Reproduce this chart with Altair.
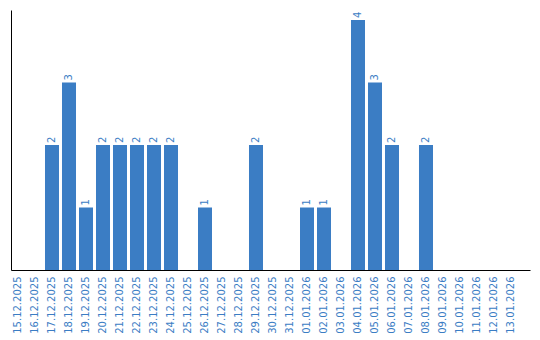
import altair as alt
import pandas as pd

dates = ["15.12.2025","16.12.2025","17.12.2025","18.12.2025","19.12.2025","20.12.2025",
         "21.12.2025","22.12.2025","23.12.2025","24.12.2025","25.12.2025","26.12.2025",
         "27.12.2025","28.12.2025","29.12.2025","30.12.2025","31.12.2025","01.01.2026",
         "02.01.2026","03.01.2026","04.01.2026","05.01.2026","06.01.2026","07.01.2026",
         "08.01.2026","09.01.2026","10.01.2026","11.01.2026","12.01.2026","13.01.2026"]
values = [0,0,2,3,1,2,2,2,2,2,0,1,0,0,2,0,0,1,1,0,4,3,2,0,2,0,0,0,0,0]

df = pd.DataFrame({"date": dates, "value": values})
df["label"] = df["value"].apply(lambda v: str(v) if v > 0 else "")

color = "#3b7dc4"

base = alt.Chart(df).encode(
    x=alt.X("date:N", sort=dates, title=None,
            scale=alt.Scale(paddingInner=0.176, paddingOuter=0.353, align=0),
            axis=alt.Axis(labelAngle=270, labelColor=color, labelFont="DejaVu Sans",
                          labelFontSize=10, ticks=False, domainColor="black",
                          labelPadding=6, labelAlign="right", labelBaseline="middle")),
    y=alt.Y("value:Q", title=None,
            scale=alt.Scale(domain=[0, 4.16], nice=False),
            axis=alt.Axis(labels=False, ticks=False, grid=False, domainColor="black")),
)

bars = base.mark_bar(color=color)
text = base.mark_text(angle=270, align="left", baseline="middle", dx=2,
                      color=color, font="DejaVu Sans", fontSize=10).encode(text="label:N")

chart = (bars + text).properties(
    width=519, height=260,
    autosize=alt.AutoSizeParams(type="none"),
    padding={"left": 11, "top": 10, "right": 10, "bottom": 70},
).configure_view(stroke=None)

chart.save("out.html", embed_options={"renderer": "svg", "actions": False})
